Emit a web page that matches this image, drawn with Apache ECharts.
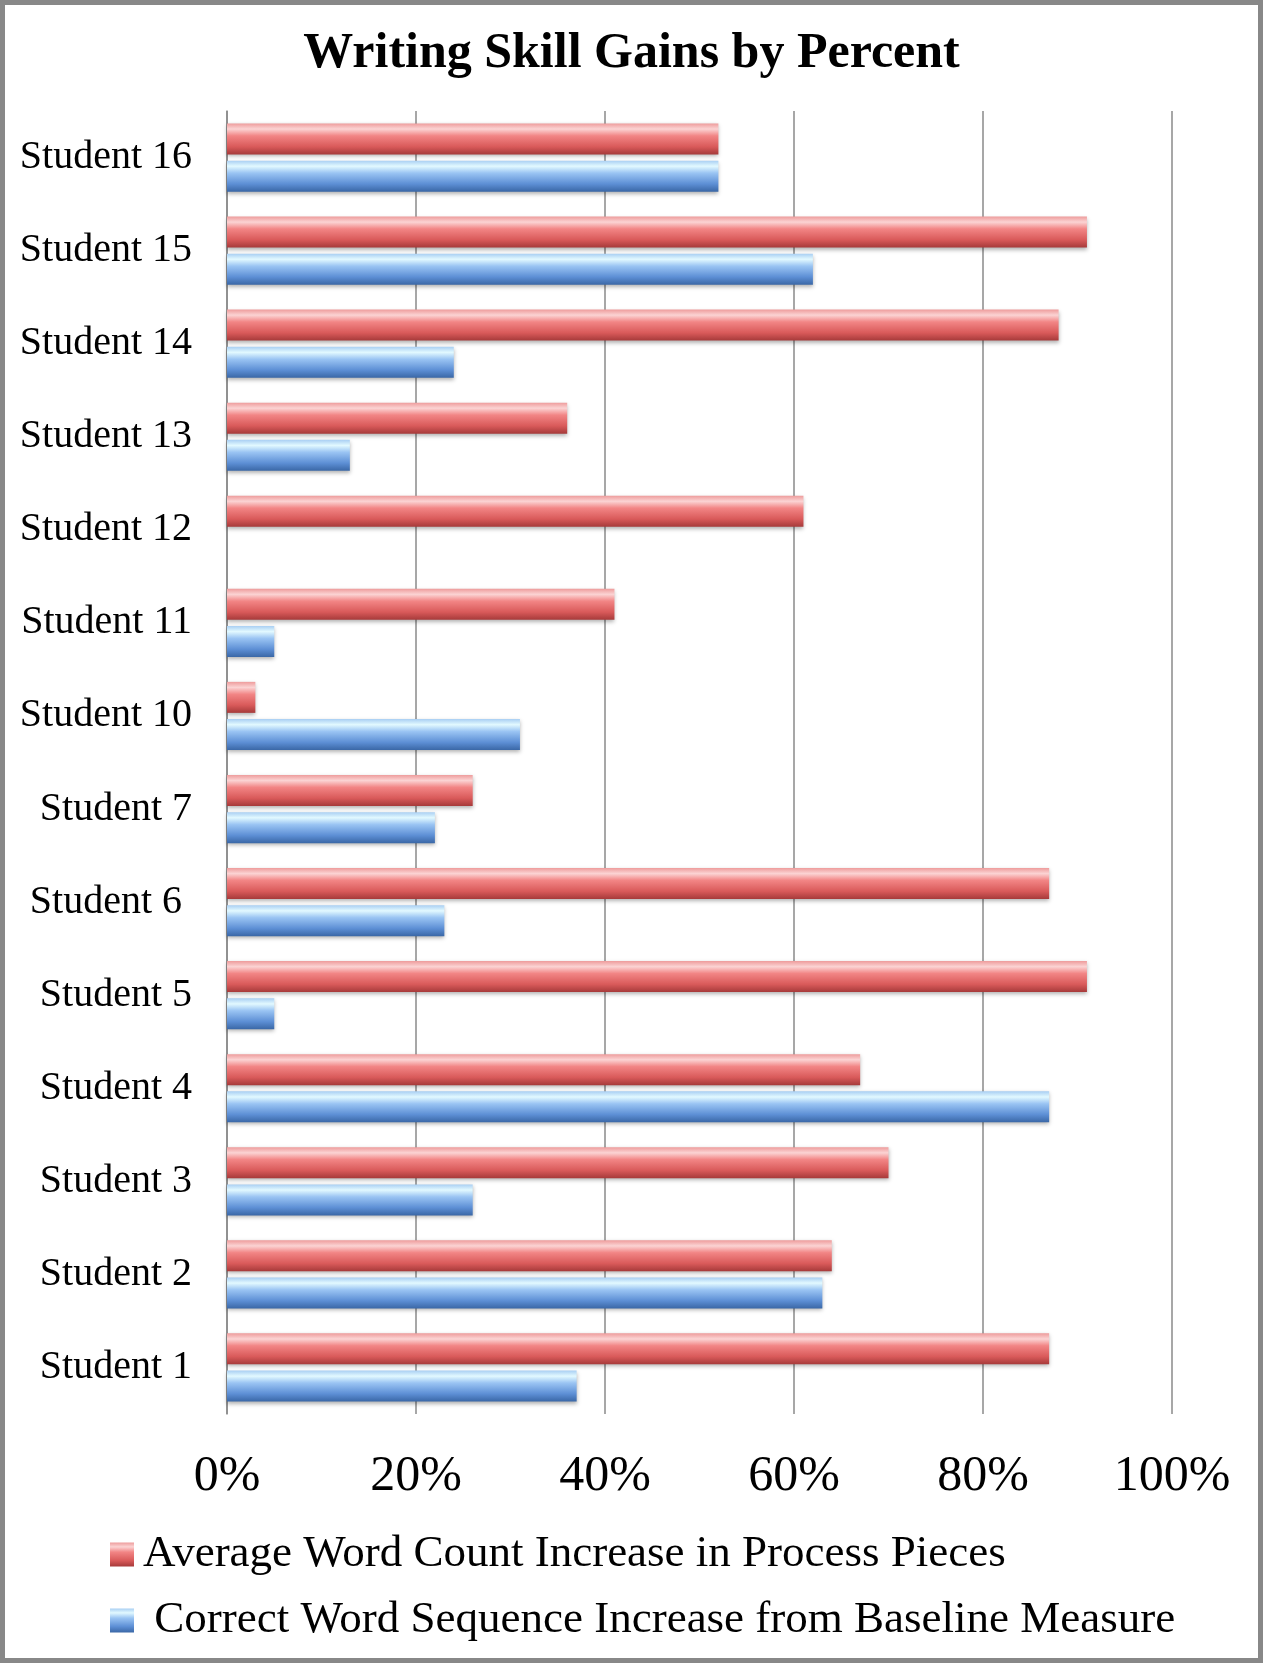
<!DOCTYPE html>
<html>
<head>
<meta charset="utf-8">
<script src="https://cdn.jsdelivr.net/npm/echarts@6/dist/echarts.min.js"></script>
<style>
html,body{margin:0;padding:0;background:#fff;}
#chart{width:1263px;height:1663px;}
</style>
</head>
<body>
<div id="chart"></div>
<script>
var categories = ['Student 1','Student 2','Student 3','Student 4','Student 5','Student 6 ','Student 7','Student 10','Student 11','Student 12','Student 13','Student 14','Student 15','Student 16'];
var wordCountValues = [87, 64, 70, 67, 91, 87, 26, 3, 41, 61, 36, 88, 91, 52];
var wordSequenceValues = [37, 63, 26, 87, 5, 23, 22, 31, 5, 0, 13, 24, 62, 52];
var seriesNames = ['Average Word Count Increase in Process Pieces', ' Correct Word Sequence Increase from Baseline Measure'];
var xTicks = [0, 20, 40, 60, 80, 100];

var FONT = 'Liberation Serif';
var chart = echarts.init(document.getElementById('chart'));

var redGrad = new echarts.graphic.LinearGradient(0, 0, 0, 1, [
  {offset: 0, color: '#ee9c9c'},
  {offset: 0.18, color: '#fbd3d3'},
  {offset: 0.4, color: '#f28585'},
  {offset: 0.75, color: '#d95a5a'},
  {offset: 1, color: '#a63a3a'}
]);
var blueGrad = new echarts.graphic.LinearGradient(0, 0, 0, 1, [
  {offset: 0, color: '#a9cff3'},
  {offset: 0.18, color: '#e2f9ff'},
  {offset: 0.4, color: '#9ac4f3'},
  {offset: 0.75, color: '#5d8fd5'},
  {offset: 1, color: '#3a67a6'}
]);

chart.setOption({
  backgroundColor: '#ffffff',
  animation: false,
  title: {
    text: 'Writing Skill Gains by Percent',
    left: 'center',
    top: 24,
    textStyle: {fontFamily: FONT, fontWeight: 'bold', fontSize: 50, color: '#000'}
  },
  graphic: [{
    type: 'rect',
    shape: {x: 2.5, y: 2.5, width: 1258, height: 1658},
    style: {fill: 'none', stroke: '#888888', lineWidth: 5},
    silent: true
  }],
  legend: {
    orient: 'vertical',
    left: 105,
    top: 1527,
    itemWidth: 24,
    itemHeight: 24,
    itemGap: 21,
    icon: 'rect',
    data: seriesNames,
    textStyle: {fontFamily: FONT, fontSize: 45, lineHeight: 44, color: '#000', padding: [0, 0, 0, 4]}
  },
  grid: {left: 227, right: 91, top: 111, bottom: 249, containLabel: false},
  xAxis: {
    type: 'value',
    min: xTicks[0],
    max: xTicks[xTicks.length - 1],
    interval: 20,
    axisLine: {show: false},
    axisTick: {show: false},
    splitLine: {show: true, lineStyle: {color: '#8a8a8a', width: 1.5}},
    axisLabel: {formatter: '{value}%', fontFamily: FONT, fontSize: 50, color: '#000', margin: 38}
  },
  yAxis: {
    type: 'category',
    data: categories,
    axisLine: {show: true, lineStyle: {color: '#8a8a8a', width: 1.5}},
    axisTick: {show: false},
    axisLabel: {fontFamily: FONT, fontSize: 40, color: '#000', margin: 35}
  },
  series: [
    {
      name: seriesNames[0],
      type: 'bar',
      data: wordCountValues,
      barWidth: 31,
      barGap: '20%',
      itemStyle: {color: redGrad, borderWidth: 0, shadowBlur: 4, shadowColor: 'rgba(0,0,0,0.3)', shadowOffsetY: 2}
    },
    {
      name: seriesNames[1],
      type: 'bar',
      data: wordSequenceValues,
      barWidth: 31,
      barGap: '20%',
      itemStyle: {color: blueGrad, borderWidth: 0, shadowBlur: 4, shadowColor: 'rgba(0,0,0,0.3)', shadowOffsetY: 2}
    }
  ]
});
</script>
</body>
</html>
